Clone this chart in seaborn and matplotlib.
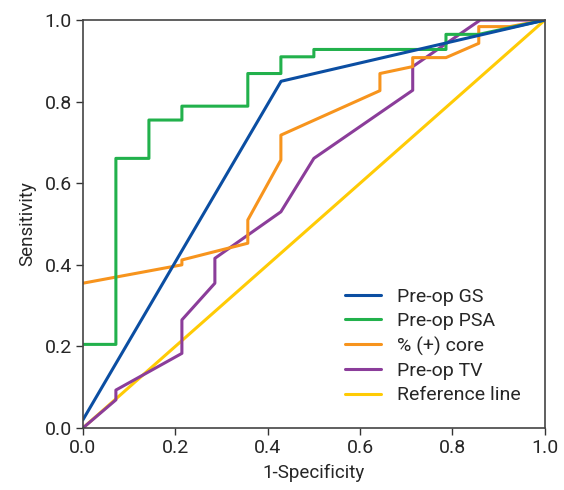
import pandas as pd
import seaborn as sns
import matplotlib.pyplot as plt

# ROC curve points
gs_x = [0.0, 0.429, 1.0]
gs_y = [0.02, 0.85, 1.0]

psa_x = [0.0, 0.0714, 0.0714, 0.1429, 0.1429, 0.2143, 0.2143, 0.357, 0.357,
         0.4286, 0.4286, 0.5, 0.5, 0.786, 0.786, 0.857, 1.0]
psa_y = [0.205, 0.205, 0.661, 0.661, 0.755, 0.755, 0.789, 0.789, 0.869,
         0.869, 0.910, 0.910, 0.928, 0.928, 0.965, 0.965, 1.0]

core_x = [0.0, 0.2143, 0.2143, 0.357, 0.357, 0.4286, 0.4286, 0.643, 0.643,
          0.714, 0.714, 0.786, 0.857, 0.857, 0.924, 1.0]
core_y = [0.355, 0.40, 0.412, 0.453, 0.51, 0.657, 0.718, 0.827, 0.869,
          0.886, 0.908, 0.908, 0.943, 0.984, 0.984, 1.0]

tv_x = [0.0, 0.0714, 0.0714, 0.2143, 0.2143, 0.2857, 0.2857, 0.4286, 0.5,
        0.714, 0.714, 0.86, 1.0]
tv_y = [0.0, 0.069, 0.093, 0.183, 0.265, 0.355, 0.416, 0.530, 0.661,
        0.828, 0.886, 1.0, 1.0]

ref_x = [0.0, 1.0]
ref_y = [0.0, 1.0]

labels = ["Pre-op GS", "Pre-op PSA", "% (+) core", "Pre-op TV", "Reference line"]
colors = ["#0b4ea2", "#22b14c", "#f7941d", "#8b3d9a", "#ffcb05"]

series = [(gs_x, gs_y), (psa_x, psa_y), (core_x, core_y), (tv_x, tv_y), (ref_x, ref_y)]
frames = []
for name, (xs, ys) in zip(labels, series):
    d = pd.DataFrame({"x": xs, "y": ys})
    d["curve"] = name
    frames.append(d)
df = pd.concat(frames, ignore_index=True)

sns.set_style("ticks")
plt.rcParams['font.family'] = ['Roboto', 'DejaVu Sans']

fig = plt.figure(figsize=(5.64, 4.90), dpi=100)
ax = fig.add_axes([0.147, 0.1265, 0.819, 0.8325])

# draw reference line first so others sit on top
for name, c in zip(labels[::-1], colors[::-1]):
    sub = df[df["curve"] == name]
    sns.lineplot(data=sub, x="x", y="y", sort=False, estimator=None,
                 color=c, linewidth=2.2, label=name, ax=ax)

ax.set_xlim(0, 1)
ax.set_ylim(0, 1)
ticks = [0.0, 0.2, 0.4, 0.6, 0.8, 1.0]
ax.set_xticks(ticks)
ax.set_yticks(ticks)
ax.set_xticklabels([f"{t:.1f}" for t in ticks])
ax.set_yticklabels([f"{t:.1f}" for t in ticks])
ax.tick_params(labelsize=14, length=5, width=1, color="#333333", pad=3)
for s in ax.spines.values():
    s.set_color("#444444")
    s.set_linewidth(1.2)
    s.set_visible(True)

ax.set_xlabel("1-Specificity", fontsize=13.5, labelpad=5)
ax.set_ylabel("Sensitivity", fontsize=13.5, labelpad=6)

handles, lbls = ax.get_legend_handles_labels()
order = [lbls.index(l) for l in labels]
ax.legend([handles[i] for i in order], [lbls[i] for i in order],
          loc="lower right", bbox_to_anchor=(0.985, 0.015), frameon=False,
          fontsize=14, handlelength=1.85, handletextpad=0.8, labelspacing=0.33)

fig.savefig("out.png", dpi=100)
